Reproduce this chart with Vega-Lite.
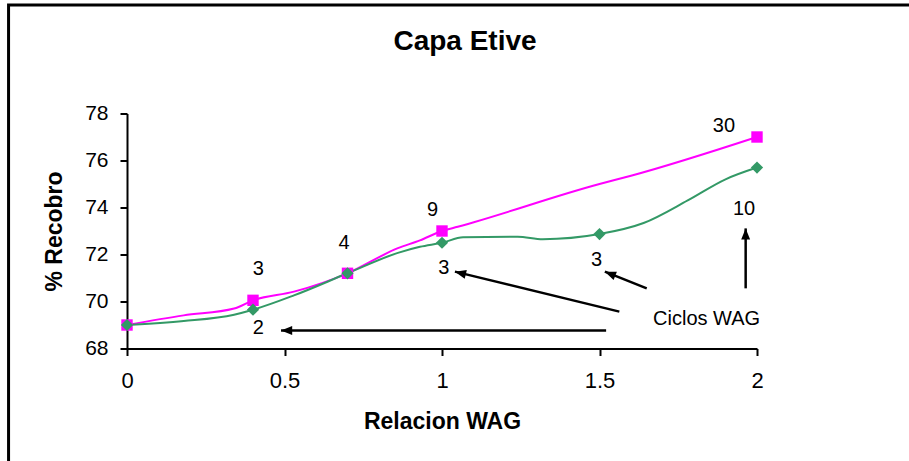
{
  "$schema": "https://vega.github.io/schema/vega-lite/v6.json",
  "width": 630,
  "height": 235,
  "autosize": "none",
  "padding": {"left": 127, "top": 113.5, "right": 152, "bottom": 112.5},
  "background": "white",
  "config": {
    "font": "Liberation Sans",
    "view": {"stroke": null},
    "axis": {"grid": false, "domainColor": "black", "tickColor": "black", "labelColor": "black", "titleColor": "black", "domainWidth": 2, "tickWidth": 2, "tickSize": 7}
  },
  "title": {"text": "Capa Etive", "fontSize": 28, "fontWeight": "bold", "color": "black", "anchor": "middle", "dx": 23, "offset": -53, "font": "Liberation Sans"},
  "datasets": {
    "curve": [
      {"serie": "A", "x": 0, "y": 69},
      {"serie": "A", "x": 0.18, "y": 69.41},
      {"serie": "A", "x": 0.34, "y": 69.7},
      {"serie": "A", "x": 0.4, "y": 70.05},
      {"serie": "A", "x": 0.53, "y": 70.42},
      {"serie": "A", "x": 0.7, "y": 71.2},
      {"serie": "A", "x": 0.86, "y": 72.27},
      {"serie": "A", "x": 0.93, "y": 72.6},
      {"serie": "A", "x": 1, "y": 73},
      {"serie": "A", "x": 1.05, "y": 73.18},
      {"serie": "A", "x": 1.5, "y": 75.0},
      {"serie": "A", "x": 1.6, "y": 75.35},
      {"serie": "A", "x": 2, "y": 77},
      {"serie": "B", "x": 0, "y": 69},
      {"serie": "B", "x": 0.18, "y": 69.17},
      {"serie": "B", "x": 0.34, "y": 69.44},
      {"serie": "B", "x": 0.4, "y": 69.65},
      {"serie": "B", "x": 0.53, "y": 70.26},
      {"serie": "B", "x": 0.7, "y": 71.2},
      {"serie": "B", "x": 0.86, "y": 72.07},
      {"serie": "B", "x": 0.93, "y": 72.33},
      {"serie": "B", "x": 1, "y": 72.5},
      {"serie": "B", "x": 1.067, "y": 72.73},
      {"serie": "B", "x": 1.24, "y": 72.76},
      {"serie": "B", "x": 1.32, "y": 72.65},
      {"serie": "B", "x": 1.5, "y": 72.87},
      {"serie": "B", "x": 1.64, "y": 73.34},
      {"serie": "B", "x": 1.78, "y": 74.3},
      {"serie": "B", "x": 1.9, "y": 75.2},
      {"serie": "B", "x": 2, "y": 75.7}
    ],
    "points": [
      {"serie": "A", "x": 0, "y": 69},
      {"serie": "A", "x": 0.4, "y": 70.05},
      {"serie": "A", "x": 0.7, "y": 71.2},
      {"serie": "A", "x": 1, "y": 73},
      {"serie": "A", "x": 2, "y": 77},
      {"serie": "B", "x": 0, "y": 69},
      {"serie": "B", "x": 0.4, "y": 69.65},
      {"serie": "B", "x": 0.7, "y": 71.2},
      {"serie": "B", "x": 1, "y": 72.5},
      {"serie": "B", "x": 1.5, "y": 72.87},
      {"serie": "B", "x": 2, "y": 75.7}
    ],
    "labels": [
      {"x": 0.417, "y": 71.37, "t": "3"},
      {"x": 0.689, "y": 72.48, "t": "4"},
      {"x": 0.97, "y": 73.89, "t": "9"},
      {"x": 1.895, "y": 77.47, "t": "30"},
      {"x": 0.417, "y": 68.86, "t": "2"},
      {"x": 1.006, "y": 71.41, "t": "3"},
      {"x": 1.491, "y": 71.77, "t": "3"},
      {"x": 1.959, "y": 73.92, "t": "10"},
      {"x": 1.84, "y": 69.24, "t": "Ciclos WAG"}
    ],
    "arrows": [
      {"id": 1, "x": 1.521, "y": 68.77, "x2": 0.489, "y2": 68.77},
      {"id": 2, "x": 1.563, "y": 69.57, "x2": 1.041, "y2": 71.27},
      {"id": 3, "x": 1.65, "y": 70.56, "x2": 1.517, "y2": 71.27},
      {"id": 4, "x": 1.964, "y": 70.56, "x2": 1.964, "y2": 73.11}
    ],
    "heads": [
      {"id": 1, "x": 0.489, "y": 68.77},
      {"id": 2, "x": 1.041, "y": 71.27},
      {"id": 3, "x": 1.517, "y": 71.27},
      {"id": 4, "x": 1.964, "y": 73.11}
    ]
  },
  "layer": [
    {
      "data": {"name": "curve"},
      "mark": {"type": "line", "strokeWidth": 2, "interpolate": "monotone"},
      "encoding": {
        "x": {"field": "x", "type": "quantitative", "scale": {"domain": [0, 2], "nice": false, "zero": false},
          "axis": {"title": "Relacion WAG", "values": [0, 0.5, 1, 1.5, 2], "format": "~g", "labelFontSize": 22, "labelPadding": 15, "titleFontSize": 23, "titleFontWeight": "bold", "titlePadding": 19, "labelFlush": false}},
        "y": {"field": "y", "type": "quantitative", "scale": {"domain": [68, 78], "nice": false, "zero": false},
          "axis": {"title": "% Recobro", "values": [68, 70, 72, 74, 76, 78], "labelFontSize": 21, "labelPadding": 12, "titleFontSize": 23, "titleFontWeight": "bold", "titlePadding": 18}},
        "color": {"field": "serie", "type": "nominal", "scale": {"domain": ["A", "B"], "range": ["#FF00FF", "#339966"]}, "legend": null},
        "detail": {"field": "serie"}
      }
    },
    {
      "data": {"name": "points"},
      "transform": [{"filter": "datum.serie == 'A'"}],
      "mark": {"type": "point", "shape": "square", "filled": true, "opacity": 1, "size": 130, "color": "#FF00FF"},
      "encoding": {
        "x": {"field": "x", "type": "quantitative"},
        "y": {"field": "y", "type": "quantitative"}
      }
    },
    {
      "data": {"name": "points"},
      "transform": [{"filter": "datum.serie == 'B'"}],
      "mark": {"type": "point", "shape": "diamond", "filled": true, "opacity": 1, "size": 150, "color": "#339966"},
      "encoding": {
        "x": {"field": "x", "type": "quantitative"},
        "y": {"field": "y", "type": "quantitative"}
      }
    },
    {
      "data": {"name": "labels"},
      "mark": {"type": "text", "fontSize": 20, "color": "black", "align": "center", "baseline": "middle"},
      "encoding": {
        "x": {"field": "x", "type": "quantitative"},
        "y": {"field": "y", "type": "quantitative"},
        "text": {"field": "t"}
      }
    },
    {
      "data": {"name": "arrows"},
      "mark": {"type": "rule", "strokeWidth": 2.5, "color": "black"},
      "encoding": {
        "x": {"field": "x", "type": "quantitative"},
        "y": {"field": "y", "type": "quantitative"},
        "x2": {"field": "x2"},
        "y2": {"field": "y2"}
      }
    },
    {
      "data": {"name": "heads"},
      "transform": [{"filter": "datum.id == 1"}],
      "mark": {"type": "point", "shape": "M0,0L-0.4,1L0.4,1Z", "filled": true, "opacity": 1, "color": "black", "size": 500, "angle": 270},
      "encoding": {"x": {"field": "x", "type": "quantitative"}, "y": {"field": "y", "type": "quantitative"}}
    },
    {
      "data": {"name": "heads"},
      "transform": [{"filter": "datum.id == 2"}],
      "mark": {"type": "point", "shape": "M0,0L-0.4,1L0.4,1Z", "filled": true, "opacity": 1, "color": "black", "size": 500, "angle": 283.7},
      "encoding": {"x": {"field": "x", "type": "quantitative"}, "y": {"field": "y", "type": "quantitative"}}
    },
    {
      "data": {"name": "heads"},
      "transform": [{"filter": "datum.id == 3"}],
      "mark": {"type": "point", "shape": "M0,0L-0.4,1L0.4,1Z", "filled": true, "opacity": 1, "color": "black", "size": 500, "angle": 291.7},
      "encoding": {"x": {"field": "x", "type": "quantitative"}, "y": {"field": "y", "type": "quantitative"}}
    },
    {
      "data": {"name": "heads"},
      "transform": [{"filter": "datum.id == 4"}],
      "mark": {"type": "point", "shape": "M0,0L-0.4,1L0.4,1Z", "filled": true, "opacity": 1, "color": "black", "size": 500, "angle": 0},
      "encoding": {"x": {"field": "x", "type": "quantitative"}, "y": {"field": "y", "type": "quantitative"}}
    },
    {
      "data": {"values": [{}]},
      "mark": {"type": "rect", "fill": "transparent", "stroke": "black", "strokeWidth": 3, "clip": false},
      "encoding": {
        "x": {"datum": -0.376, "type": "quantitative"},
        "x2": {"datum": 3},
        "y": {"datum": 82.62, "type": "quantitative"},
        "y2": {"datum": 55}
      }
    }
  ]
}
